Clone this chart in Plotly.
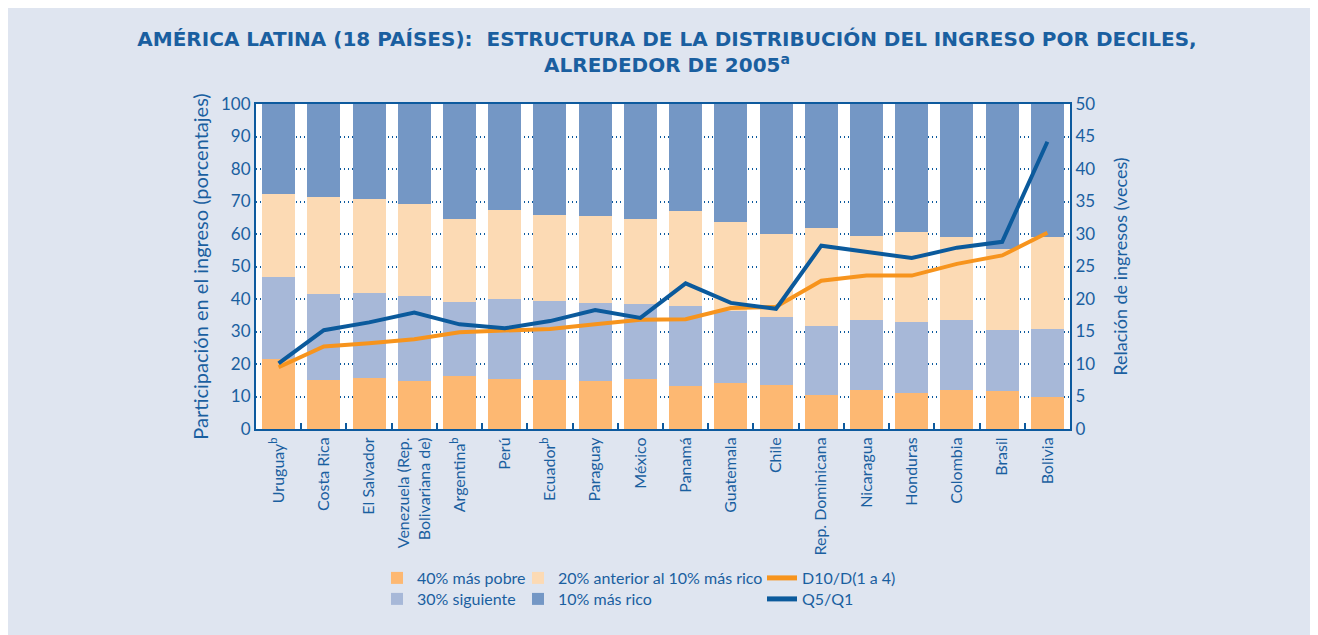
import plotly.graph_objects as go

countries = ["Uruguay<sup>b</sup>", "Costa Rica", "El Salvador",
             "Venezuela (Rep.<br>Bolivariana de)", "Argentina<sup>b</sup>", "Perú",
             "Ecuador<sup>b</sup>", "Paraguay", "México", "Panamá", "Guatemala", "Chile",
             "Rep. Dominicana", "Nicaragua", "Honduras", "Colombia", "Brasil", "Bolivia"]

poorest40 = [21.6, 15.2, 15.8, 14.9, 16.4, 15.5, 15.2, 14.9, 15.5, 13.3, 14.2, 13.6, 10.5, 12.1, 11.2, 12.1, 11.8, 9.7]
next30 = [25.2, 26.4, 26.1, 26.1, 22.7, 24.5, 24.2, 23.9, 23.0, 24.6, 22.2, 20.9, 21.3, 21.5, 21.8, 21.5, 18.7, 21.1]
prev20 = [25.5, 29.8, 28.9, 28.3, 25.5, 27.4, 26.4, 26.8, 26.1, 29.2, 27.3, 25.5, 30.1, 25.8, 27.6, 25.5, 24.9, 28.3]
richest10 = [27.7, 28.6, 29.2, 30.7, 35.4, 32.6, 34.2, 34.4, 35.4, 32.9, 36.3, 40.0, 38.1, 40.6, 39.4, 40.9, 44.6, 40.9]

d10_d1_4 = [9.5, 12.7, 13.2, 13.8, 14.9, 15.1, 15.4, 16.1, 16.8, 16.9, 18.6, 18.8, 22.8, 23.6, 23.6, 25.4, 26.7, 30.2]
q5_q1 = [10.1, 15.2, 16.4, 17.9, 16.1, 15.5, 16.6, 18.3, 17.1, 22.4, 19.4, 18.5, 28.2, 27.3, 26.3, 27.9, 28.8, 44.2]

left_ticks = list(range(0, 101, 10))
right_ticks = list(range(0, 51, 5))

TXT = "#1a5fa0"
AX = "#0d5a9e"
FONT = "Lato"

fig = go.Figure()
fig.add_bar(x=countries, y=poorest40, name="40% más pobre", marker_color="#fdb872", legend="legend")
fig.add_bar(x=countries, y=next30, name="30% siguiente", marker_color="#a7b8d8", legend="legend2")
fig.add_bar(x=countries, y=prev20, name="20% anterior al 10% más rico", marker_color="#fcdab4", legend="legend3")
fig.add_bar(x=countries, y=richest10, name="10% más rico", marker_color="#7497c5", legend="legend4")
fig.add_scatter(x=countries, y=d10_d1_4, name="D10/D(1 a 4)", mode="lines", yaxis="y2",
                line=dict(color="#f7941d", width=4), legend="legend5")
fig.add_scatter(x=countries, y=q5_q1, name="Q5/Q1", mode="lines", yaxis="y2",
                line=dict(color="#0b5a9c", width=4), legend="legend6")
fig.update_traces(marker_line_width=0, selector=dict(type="bar"))
fig.update_traces(showlegend=True)

# plot area in screen pixels: x 256..1070, y 104..429
PW, PH = 814.0, 325.0
def px_x(px):
    return (px - 256) / PW
def px_y(py):
    return (429 - py) / PH

leg_common = dict(orientation="v", xref="paper", yref="paper", yanchor="top", xanchor="left",
                  bgcolor="rgba(0,0,0,0)", font=dict(family=FONT, size=16, color=TXT),
                  traceorder="normal", tracegroupgap=0, itemsizing="constant", visible=True)

fig.update_layout(
    width=1318, height=635, showlegend=True,
    margin=dict(l=248, r=256, t=96, b=214, autoexpand=False),
    paper_bgcolor="#dfe5f0", plot_bgcolor="#ffffff",
    barmode="stack", bargap=0.27,
    font=dict(family=FONT, color=TXT),
    title=dict(text="AMÉRICA LATINA (18 PAÍSES):  ESTRUCTURA DE LA DISTRIBUCIÓN DEL INGRESO POR DECILES,<br>ALREDEDOR DE 2005<sup>a</sup>",
               x=0.5, xanchor="center", xref="container", y=0.94, yanchor="top", yref="container",
               font=dict(family="DejaVu Sans", size=20, color=TXT, weight="bold")),
    xaxis=dict(type="category", tickangle=-90, tickfont=dict(family=FONT, size=16, color=TXT),
               showline=True, linecolor=AX, linewidth=2, mirror=True, automargin=False,
               ticks="inside", tickson="boundaries", ticklen=6, tickwidth=2, tickcolor=AX,
               showgrid=False, range=[-0.5, 17.5]),
    yaxis=dict(range=[0, 100], tickvals=left_ticks, tickfont=dict(family=FONT, size=17, color=TXT),
               showline=True, linecolor=AX, linewidth=2, ticks="", automargin=False,
               showgrid=True, gridcolor=AX, gridwidth=1.5, griddash="1px,3px", zeroline=False,
               title=dict(text="Participación en el ingreso (porcentajes)", font=dict(family=FONT, size=20, color=TXT), standoff=7)),
    yaxis2=dict(range=[0, 50], tickvals=right_ticks, overlaying="y", side="right", automargin=False,
                tickfont=dict(family=FONT, size=17, color=TXT),
                showline=True, linecolor=AX, linewidth=2, ticks="", showgrid=False, zeroline=False,
                title=dict(text="Relación de ingresos (veces)", font=dict(family=FONT, size=18, color=TXT), standoff=20)),
    legend=dict(x=px_x(377), y=px_y(561), **leg_common),
    legend2=dict(x=px_x(377), y=px_y(582), **leg_common),
    legend3=dict(x=px_x(518), y=px_y(561), **leg_common),
    legend4=dict(x=px_x(518), y=px_y(582), **leg_common),
    legend5=dict(x=px_x(762), y=px_y(561), **leg_common),
    legend6=dict(x=px_x(762), y=px_y(582), **leg_common),
)

fig.write_html("out.html")
